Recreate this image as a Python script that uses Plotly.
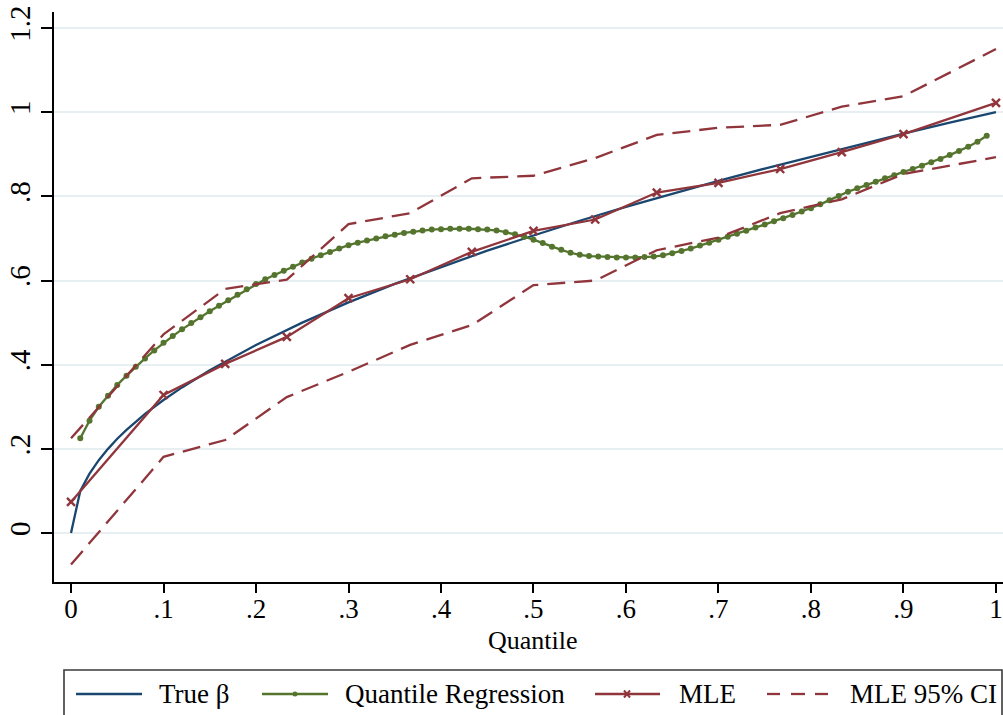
import plotly.graph_objects as go

# ---------------- data ----------------
beta_q = [0, 0.01, 0.02, 0.03, 0.04, 0.05, 0.06, 0.08, 0.10, 0.12, 0.15, 0.18,
          0.20, 0.25, 0.30, 0.35, 0.40, 0.45, 0.50, 0.55, 0.60, 0.65, 0.70,
          0.75, 0.80, 0.85, 0.90, 0.95, 1.00]
beta_v = [0, 0.100, 0.141, 0.173, 0.200, 0.224, 0.245, 0.283, 0.316, 0.346,
          0.387, 0.424, 0.447, 0.500, 0.548, 0.592, 0.632, 0.671, 0.707, 0.742,
          0.775, 0.806, 0.837, 0.866, 0.894, 0.922, 0.949, 0.975, 1.000]

qr_q = [round(0.01 * i, 2) for i in range(1, 100)]
qr_v = [0.225, 0.267, 0.300, 0.326, 0.352, 0.374, 0.395, 0.415, 0.434, 0.452,
        0.468, 0.484, 0.499, 0.513, 0.527, 0.540, 0.553, 0.566, 0.579, 0.592,
        0.603, 0.613, 0.623, 0.633, 0.643, 0.652, 0.660, 0.668, 0.676, 0.684,
        0.690, 0.695, 0.700, 0.705, 0.709, 0.713, 0.716, 0.719, 0.721, 0.722,
        0.723, 0.723, 0.723, 0.722, 0.721, 0.719, 0.715, 0.710, 0.704, 0.697,
        0.689, 0.680, 0.673, 0.666, 0.661, 0.658, 0.657, 0.656, 0.655, 0.655,
        0.655, 0.656, 0.657, 0.660, 0.665, 0.670, 0.676, 0.683, 0.690, 0.697,
        0.704, 0.711, 0.718, 0.726, 0.733, 0.741, 0.748, 0.756, 0.764, 0.772,
        0.781, 0.791, 0.801, 0.811, 0.819, 0.827, 0.835, 0.843, 0.850, 0.858,
        0.865, 0.873, 0.881, 0.889, 0.898, 0.908, 0.918, 0.930, 0.944]

mle_q = [0, 0.1, 0.1667, 0.2333, 0.3, 0.3667, 0.4333, 0.5, 0.5667, 0.6333,
         0.7, 0.7667, 0.8333, 0.9, 1.0]
mle_v = [0.074, 0.328, 0.402, 0.466, 0.558, 0.603, 0.668, 0.718, 0.745, 0.809,
         0.832, 0.865, 0.905, 0.948, 1.022]
ci_hi = [0.225, 0.472, 0.580, 0.602, 0.734, 0.760, 0.843, 0.849, 0.891, 0.946,
         0.963, 0.970, 1.013, 1.038, 1.150]
ci_lo = [-0.075, 0.181, 0.221, 0.323, 0.383, 0.447, 0.494, 0.589, 0.600, 0.672,
         0.702, 0.760, 0.793, 0.853, 0.893]

x_ticks = [0, 0.1, 0.2, 0.3, 0.4, 0.5, 0.6, 0.7, 0.8, 0.9, 1.0]
x_labels = ["0", ".1", ".2", ".3", ".4", ".5", ".6", ".7", ".8", ".9", "1"]
y_ticks = [0, 0.2, 0.4, 0.6, 0.8, 1.0, 1.2]
y_labels = ["0", ".2", ".4", ".6", ".8", "1", "1.2"]

x_title = "Quantile"
legend_labels = ["True \u03b2", "Quantile Regression", "MLE", "MLE 95% CI"]

# ---------------- style ----------------
NAVY = "#1a476f"
GREEN = "#55752f"
MAROON = "#90353b"
FONT = "Liberation Serif, Times New Roman, serif"
W, H = 1003, 715
ML, MR, MT, MB = 54, 0, 12, 133

fig = go.Figure()
fig.add_trace(go.Scatter(x=beta_q, y=beta_v, mode="lines",
                         line=dict(color=NAVY, width=2.3), showlegend=False))
fig.add_trace(go.Scatter(x=qr_q, y=qr_v, mode="lines+markers",
                         line=dict(color=GREEN, width=2.3),
                         marker=dict(color=GREEN, size=6, symbol="circle"),
                         showlegend=False))
fig.add_trace(go.Scatter(x=mle_q, y=mle_v, mode="lines+markers",
                         line=dict(color=MAROON, width=2.3),
                         marker=dict(color=MAROON, size=8, symbol="x-thin",
                                     line=dict(color=MAROON, width=2.4)),
                         showlegend=False))
for ci in (ci_hi, ci_lo):
    fig.add_trace(go.Scatter(x=mle_q, y=ci, mode="lines",
                             line=dict(color=MAROON, width=2.3, dash="18px,9px"),
                             showlegend=False))

pw = W - ML - MR
ph = H - MT - MB


def px_x(p):
    return (p - ML) / pw


def px_y(p):
    return (H - MB - p) / ph


shapes = []
annotations = []
# legend box
shapes.append(dict(type="rect", xref="paper", yref="paper",
                   x0=px_x(64), x1=px_x(1002), y0=px_y(740), y1=px_y(670),
                   line=dict(color="#3a3a3a", width=1.6), fillcolor="rgba(0,0,0,0)"))
ly = px_y(694)


def hline(a, b, color):
    shapes.append(dict(type="line", xref="paper", yref="paper", x0=px_x(a), x1=px_x(b),
                       y0=ly, y1=ly, line=dict(color=color, width=2.3)))


hline(76, 142, NAVY)
hline(262, 328, GREEN)
shapes.append(dict(type="circle", xref="paper", yref="paper",
                   x0=px_x(292.5), x1=px_x(297.5), y0=px_y(696.5), y1=px_y(691.5),
                   fillcolor=GREEN, line=dict(color=GREEN, width=0)))
hline(595, 660, MAROON)
for (a, b, c, d) in [(624, 690.5, 630, 697.5), (624, 697.5, 630, 690.5)]:
    shapes.append(dict(type="line", xref="paper", yref="paper",
                       x0=px_x(a), y0=px_y(b), x1=px_x(c), y1=px_y(d),
                       line=dict(color=MAROON, width=2)))
for a, b in [(767, 780), (791, 805), (815, 828)]:
    hline(a, b, MAROON)

for txt, x0 in zip(legend_labels, [157, 343, 677, 848]):
    annotations.append(dict(text=txt, xref="paper", yref="paper", x=px_x(x0),
                            y=px_y(694), xanchor="left", yanchor="middle",
                            showarrow=False, font=dict(family=FONT, size=27, color="black")))

# x-axis title
annotations.append(dict(text=x_title, xref="x", yref="paper", x=0.5, y=px_y(640),
                        xanchor="center", yanchor="middle", showarrow=False,
                        font=dict(family=FONT, size=26, color="black")))

fig.update_layout(
    width=W, height=H,
    margin=dict(l=ML, r=MR, t=MT, b=MB, pad=0),
    paper_bgcolor="white", plot_bgcolor="white",
    font=dict(family=FONT, size=26, color="black"),
    shapes=shapes, annotations=annotations,
    showlegend=False,
)
fig.update_xaxes(range=[-0.0184, 1.0076], tickvals=x_ticks, ticktext=x_labels,
                 showgrid=False, zeroline=False, showline=True, linecolor="black",
                 linewidth=1.6, ticks="outside", ticklen=9, tickwidth=1.5,
                 tickcolor="black", tickfont=dict(family=FONT, size=27),
                 ticklabeloverflow="allow", ticklabelstandoff=-7)
fig.update_yaxes(range=[-0.1164, 1.2381], tickvals=y_ticks, ticktext=y_labels,
                 showgrid=True, gridcolor="#e8eff2", gridwidth=2, zeroline=False,
                 showline=True, linecolor="black", linewidth=1.6, ticks="outside",
                 ticklen=11, tickwidth=1.5, tickcolor="black", tickangle=-90,
                 tickfont=dict(family=FONT, size=29), ticklabeloverflow="allow")

fig.write_html("out.html", config={"displayModeBar": False},
               post_script="document.body.style.margin='0';document.body.style.overflow='hidden';")
